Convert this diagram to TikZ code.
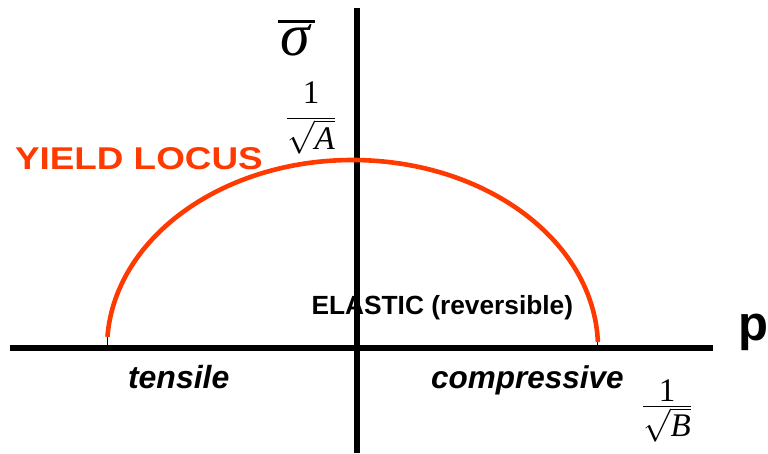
\RequirePackage{fix-cm}
\documentclass[tikz,border=0pt]{standalone}
\usepackage{fontspec}
\setmainfont{Liberation Serif}
\setsansfont{Liberation Sans}
\usepackage{graphicx}
\usetikzlibrary{calc}
\definecolor{locusred}{RGB}{255,58,0}
\tikzset{
  axisline/.style={line width=6pt, black},
  locusline/.style={line width=4.6pt, locusred},
  tickline/.style={line width=1pt, black},
  lbl/.style={inner sep=0pt, outer sep=0pt},
  sanslbl/.style={lbl, font=\sffamily\bfseries},
}
\begin{document}
\begin{tikzpicture}[x=1pt,y=-1pt]
\useasboundingbox (0,0) rectangle (768,453);
% axes
\coordinate (hL) at (9.5,348.3);
\coordinate (hR) at (712.7,348.3);
\coordinate (vT) at (356.7,8);
\coordinate (vB) at (356.7,453);
\draw[axisline] (hL) -- (hR);
\draw[axisline] (vT) -- (vB);
% yield locus
\coordinate (C) at (352.5,348);
\coordinate (eL) at ($(C)+(183.4:245.5 and 188)$);
\coordinate (eR) at ($(C)+(358.2:245.5 and 188)$);
\coordinate (eLb) at (eL |- hL);
\coordinate (eRb) at (eR |- hL);
\draw[tickline] (eL) -- (eLb);
\draw[tickline] (eR) -- (eRb);
\draw[locusline] (eL) arc[start angle=183.4, end angle=358.2, x radius=245.5, y radius=188];
% labels
\node[lbl, anchor=base, font=\fontsize{60}{60}\selectfont\itshape] (sig) at (295,55) {σ};
\draw[line width=3pt] ($(sig.base)+(-17,-34)$) coordinate (barL) -- ($(sig.base)+(20,-34)$) coordinate (barR);
\node[lbl, anchor=base, font=\fontsize{33}{36}\selectfont] (fracA) at (311,126.3)
  {$\displaystyle\frac{\mbox{1}}{\sqrt{\textit{A}}}$};
\node[lbl, anchor=base, font=\fontsize{33}{36}\selectfont] (fracB) at (667,414.3)
  {$\displaystyle\frac{\raisebox{-10pt}[0pt][0pt]{1}}{\sqrt{\textit{B}}}$};
\node[sanslbl, anchor=base west, text=locusred, font=\fontsize{31.5}{34}\selectfont\sffamily\bfseries] (yl) at (15,169.3)
  {\scalebox{1.17}[1]{YIELD LOCUS}};
\node[sanslbl, anchor=base west, font=\fontsize{26.3}{30}\selectfont\sffamily\bfseries] (el) at (311.5,314)
  {ELASTIC (reversible)};
\node[sanslbl, anchor=base west, font=\fontsize{49}{50}\selectfont\sffamily\bfseries] (p) at (738,340)
  {p};
\node[sanslbl, anchor=base west, font=\fontsize{32}{34}\selectfont\sffamily\bfseries\itshape] (ten) at (128,388)
  {tensile};
\node[sanslbl, anchor=base west, font=\fontsize{31.5}{34}\selectfont\sffamily\bfseries\itshape] (comp) at (431,388)
  {compressive};
\end{tikzpicture}
\end{document}
